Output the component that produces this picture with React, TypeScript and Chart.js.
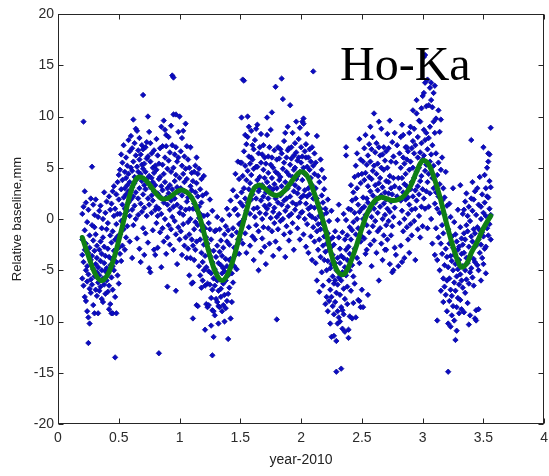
import { useEffect, useRef } from "react";
import { Chart, registerables } from "chart.js";

Chart.register(...registerables);

// Tick values
const xTicks = [0, 0.5, 1, 1.5, 2, 2.5, 3, 3.5, 4];
const yTicks = [-20, -15, -10, -5, 0, 5, 10, 15, 20];

const xTitle = "year-2010";
const yTitle = "Relative baseline,mm";
const stationLabel = "Ho-Ka";
const stationLabelX = 2.32;
const stationLabelY = 13.56;

// Observed relative baseline (mm), grouped by epoch (year-2010)
const samples2010: [number, number[]][] = [
  [0.20, [-2.0, -3.5, -5.8, 0.5]], [0.21, [9.5, -4.2, -6.5, 1.2]], [0.22, [2.7, -1.1, -7.6, -3.0]],
  [0.23, [1.6, -5.0, -2.4, -8.0]], [0.24, [-9.0, -0.3, -4.6, -6.1]], [0.25, [-9.6, -12.1, -3.3, -5.4, 0.9]],
  [0.26, [-10.2, -2.8, -6.8, -1.6]], [0.27, [-4.0, -7.2, 2.0, -5.9]], [0.28, [5.1, -3.6, -0.6, -6.4]],
  [0.29, [-2.1, -4.9, -8.4, 1.4]], [0.30, [-9.2, -3.1, -5.6, -0.8, 0.4]], [0.31, [-1.5, -6.9, -4.4, 1.9]],
  [0.32, [-3.8, -7.5, -2.6, -5.2]], [0.33, [0.2, -6.2, -4.7, -9.2]], [0.34, [-3.0, -5.5, 0.8, -7.0]],
  [0.35, [-2.2, -4.1, -6.6, 1.3]], [0.36, [-0.9, -5.0, -3.4, -7.8]], [0.37, [-8.1, -1.8, -5.8, 0.0]],
  [0.38, [2.6, -4.3, -6.4, -2.7]], [0.39, [-3.6, 0.6, -7.3, -5.1]], [0.40, [-1.0, -4.8, 1.7, -6.0]],
  [0.41, [-2.9, -7.1, -0.4, -5.3]], [0.42, [-3.7, 2.2, -6.5, -8.8]], [0.43, [-1.6, -4.5, 0.9, -8.3]],
  [0.44, [-9.2, -2.3, -5.7, 1.5, -3.9]], [0.45, [-9.2, 2.7, -1.2, -6.9, -4.6]], [0.46, [0.3, -3.1, -5.0, 3.2]],
  [0.47, [-13.5, -2.0, 1.0, -7.6]], [0.48, [-9.2, -4.2, 2.4, -0.5]], [0.49, [3.6, -1.7, -5.5, 0.5]],
  [0.50, [-2.8, 1.9, -6.3, 4.3]], [0.51, [0.5, -3.4, 4.8, -1.5]], [0.52, [2.9, -0.2, 6.3, -4.1]],
  [0.53, [1.4, 3.8, -2.6, 5.5]], [0.54, [-1.0, 2.1, 7.2, 0.0]], [0.55, [4.6, 1.0, -3.0, 3.0]],
  [0.56, [6.0, 2.4, -1.8, 4.0]], [0.57, [0.8, 5.2, 3.3, -0.7]], [0.58, [2.7, 7.7, 1.6, 4.4]],
  [0.59, [-2.2, 3.6, 6.6, 0.3]], [0.60, [5.0, 1.9, 8.1, 2.8]], [0.61, [3.1, 6.9, 0.9, 4.7, -3.8]],
  [0.62, [9.7, 2.2, 5.6, -0.6]], [0.63, [4.1, 7.4, 1.3, 3.5]], [0.64, [6.2, 0.0, 8.8, 2.6]],
  [0.65, [8.6, 3.9, 5.1, -1.9]], [0.66, [2.0, 6.7, 4.6, 0.4]], [0.67, [5.8, 3.0, 7.9, -2.9]],
  [0.68, [1.5, 4.4, 6.3, -4.2]], [0.69, [3.7, 7.2, 0.7, 5.3]], [0.70, [12.1, 2.4, 4.9, -0.9, 6.8]],
  [0.71, [5.4, 1.1, 3.3, -3.5]], [0.72, [7.0, 2.9, -1.4, 4.6]], [0.73, [7.5, 0.3, 3.9, 5.9]],
  [0.74, [10.0, 2.0, -2.3, 6.1]], [0.75, [8.5, 4.2, 1.4, -4.8]], [0.76, [7.4, 3.1, 5.6, -5.2]],
  [0.77, [2.3, 0.6, 6.4, 4.0]], [0.78, [-1.1, 3.6, 5.0, 1.8]], [0.79, [6.7, 2.7, -3.0, 4.5]],
  [0.80, [0.9, 5.2, 3.3, -3.5]], [0.81, [4.8, 1.2, -0.4, 7.8]], [0.82, [2.5, 6.2, -2.8, 0.3]],
  [0.83, [-13.1, 3.9, 1.0, 5.4]], [0.84, [6.9, 2.2, -1.3, 4.1]], [0.85, [9.0, 0.5, 3.2, -4.7]],
  [0.86, [7.1, 2.8, 5.3, -0.9]], [0.87, [9.6, 1.6, 4.4, -2.2]], [0.88, [8.7, 0.0, 3.6, 6.0]],
  [0.89, [8.2, 7.1, 2.1, -3.4]], [0.90, [1.4, 4.9, -1.8, 3.0, -6.6]], [0.91, [5.7, 2.5, -0.6, 8.0]],
  [0.92, [3.3, 0.9, 6.5, -2.5]], [0.93, [9.1, 4.6, 1.8, -1.0]], [0.94, [14.0, 7.2, 2.9, 0.2]],
  [0.95, [13.8, 10.2, 5.0, -3.0, 1.2]], [0.96, [3.7, 6.3, -0.2, 2.0]], [0.97, [10.2, 7.0, 4.3, -1.5, -7.0]],
  [0.98, [5.6, 1.4, 3.1, -4.4]], [0.99, [8.5, 2.6, -0.8, 6.0]],
];

const samples2011: [number, number[]][] = [
  [1.00, [10.0, 4.0, 0.6, -2.0]], [1.01, [3.0, 6.6, 1.1, -1.2]], [1.02, [7.9, 5.2, 2.3, -3.5]],
  [1.03, [0.4, 4.4, 8.6, -0.5]], [1.04, [6.1, 2.7, -2.6, 3.6]], [1.05, [4.9, 0.9, 9.3, -1.8]],
  [1.06, [7.1, 1.7, 3.9, -3.8]], [1.07, [2.1, -0.3, 5.8, -2.9]], [1.08, [5.0, -1.5, 1.0, -5.5]],
  [1.09, [7.0, 0.0, 3.2, -3.8]], [1.10, [2.8, -2.0, 4.5, -6.3]], [1.11, [-9.7, 1.0, 3.7, -2.6, -6.2]],
  [1.12, [4.6, -1.0, 1.5, -4.0]], [1.13, [2.6, -0.3, 5.2, -3.0]], [1.14, [0.9, 3.5, -2.2, 6.0, -8.4]],
  [1.15, [-8.5, 2.2, -0.6, 4.4]], [1.16, [4.9, 0.1, -4.6, 1.2]], [1.17, [-2.0, 0.5, 2.9, -5.5]],
  [1.18, [-1.1, -3.3, 3.9, 1.6, -6.7]], [1.19, [-4.2, -0.6, -6.0, 2.3]], [1.20, [-2.5, 0.3, -5.0, 4.2]],
  [1.21, [-10.8, -3.6, -0.9, -6.5]], [1.22, [-1.8, -4.7, 2.5, -8.3]], [1.23, [-6.3, -2.4, 0.4, -8.6]],
  [1.24, [-8.4, -3.0, -0.4, -5.1]], [1.25, [-3.6, -6.4, -1.0, 1.9]], [1.26, [-10.4, -5.3, -7.7, -2.0]],
  [1.27, [-13.3, -6.9, -4.2, -8.9, 0.8]], [1.28, [-11.5, -9.0, -5.8, -3.1]], [1.29, [-9.4, -4.9, -1.2, -6.5]],
  [1.30, [-7.8, -3.7, -5.2, -1.1]], [1.31, [-6.0, -2.6, -8.1, 0.2]], [1.32, [-10.2, -8.5, -4.3, -7.0]],
  [1.33, [-8.6, -3.2, -5.9, -1.0]], [1.34, [-6.8, -4.5, -2.1, -7.6]], [1.35, [-3.6, -5.3, -0.1, -9.0]],
  [1.36, [-2.8, -6.3, -8.4, -4.8]], [1.37, [-5.1, -1.5, -7.4, -10.0]], [1.38, [-3.9, -0.7, -6.0, -8.7]],
  [1.39, [-2.2, -4.6, 1.0, -8.0]], [1.40, [-11.7, -1.1, -5.5, -7.3]], [1.41, [-2.5, 0.4, -6.7, -4.0]],
  [1.42, [-9.7, -3.9, 1.8]], [1.43, [-8.1, -1.6, -5.3]], [1.44, [2.8, -0.9, -6.2]],
  [1.45, [-2.8, -4.6, 0.9]], [1.46, [1.0, -3.5, 4.4]], [1.47, [-1.3, 2.2, -4.9]],
  [1.48, [5.6, 0.4, -2.0]], [1.49, [3.9, -0.5, -3.4]], [1.50, [5.5, 1.6, -2.0, -0.4]],
  [1.51, [5.5, 2.6, -0.3, 9.9]], [1.52, [13.6, 4.2, 1.3, -2.4]], [1.53, [13.5, 6.6, 3.0, 0.0]],
  [1.54, [8.2, 2.0, -1.4, 5.2]], [1.55, [3.8, 7.3, 0.8, -3.3]], [1.56, [10.0, 8.0, 4.7, 1.6]],
  [1.57, [9.0, 2.9, 6.1, -0.8]], [1.58, [5.4, 0.5, 3.5, -2.6]], [1.59, [6.0, 1.9, 8.6, 4.3]],
  [1.60, [2.4, -1.7, 5.8, 7.2]], [1.61, [4.9, 1.0, -4.0, 6.8]], [1.62, [3.1, 7.7, 0.2, -2.0]],
  [1.63, [8.8, 5.1, 2.0, -0.6]], [1.64, [5.1, 3.8, 9.2, 1.1]], [1.65, [6.4, -1.2, 2.7, -5.0]],
  [1.66, [4.1, 0.6, 7.0, 3.0]], [1.67, [1.8, 5.5, -3.2, 8.3]], [1.68, [3.3, 6.3, 0.0, -1.9]],
  [1.69, [7.2, 2.2, 4.8, -0.8]], [1.70, [4.0, 1.3, 6.0, -2.7]], [1.71, [5.4, 2.6, 0.5, -4.4]],
  [1.72, [9.9, 8.2, 3.6, 1.0]], [1.73, [6.1, 2.0, -0.9, 4.5]], [1.74, [7.0, 3.1, -2.4, 1.4]],
  [1.75, [8.7, 5.3, 0.1, 2.6]], [1.76, [10.4, 4.0, -1.2, 6.0]], [1.77, [2.9, 0.7, 5.0, -3.6]],
  [1.78, [6.7, 3.4, 1.1, -0.4]], [1.79, [12.9, 4.6, 2.0, -2.2]], [1.80, [-9.8, 3.0, 0.2, 5.8]],
  [1.81, [1.6, 4.4, -1.0, 7.0]], [1.82, [3.8, 0.5, 5.9, -2.9]], [1.83, [6.8, 2.3, -0.2, 4.1]],
  [1.84, [13.7, 6.4, 1.4, 3.2]], [1.85, [11.7, 4.9, 0.0, 2.6]], [1.86, [5.5, 1.8, 7.6, -1.5]],
  [1.87, [3.6, 8.4, 0.8, -3.7]], [1.88, [6.0, 2.0, 4.6, -0.7]], [1.89, [6.7, 3.0, 9.0, 1.2]],
  [1.90, [4.3, 0.3, 6.9, -2.1]], [1.91, [11.1, 5.3, 2.2, -1.3]], [1.92, [7.0, 3.5, 0.5, 5.9]],
  [1.93, [8.4, 4.1, 1.6, -0.4]], [1.94, [6.2, 2.7, -3.0, 4.8]], [1.95, [5.0, 0.9, 7.4, 3.3]],
  [1.96, [9.5, 3.9, 1.4, 6.5]], [1.97, [2.5, 5.7, -0.9, 4.2]], [1.98, [7.8, 3.0, 0.2, 6.0]],
  [1.99, [4.6, 1.6, 8.9, -2.0]],
];

const samples2012: [number, number[]][] = [
  [2.00, [5.5, 2.1, 7.0, 0.6]], [2.01, [9.5, 3.8, 0.7, 6.1]], [2.02, [9.8, 9.3, 5.0, -1.5, 2.3]],
  [2.03, [4.4, 0.0, 6.6, 2.8]], [2.04, [7.3, 1.5, 6.0, -2.7]], [2.05, [5.1, -0.5, 2.2, 8.3]],
  [2.06, [3.0, 6.0, -3.3, 1.0]], [2.07, [4.8, 0.4, 6.8, 2.4]], [2.08, [1.2, 4.0, -1.7, 5.6]],
  [2.09, [7.0, 3.3, 0.2, -4.0]], [2.10, [14.4, 2.0, 5.2, -0.8]], [2.11, [4.4, 1.1, -2.2, 6.4]],
  [2.12, [0.0, 3.0, -4.3, 5.5]], [2.13, [8.1, 2.0, -1.2, -6.0]], [2.14, [4.2, -0.5, 1.5, -3.0]],
  [2.15, [3.6, -2.0, 0.3, -7.1]], [2.16, [5.8, 1.0, -3.7, -1.0]], [2.17, [4.8, -0.4, 2.3, -5.2]],
  [2.18, [1.6, -2.6, -6.5, 0.4]], [2.19, [4.0, -1.7, -4.0, 2.9]], [2.20, [-1.1, -3.2, 1.0, -8.3]],
  [2.21, [-2.4, -5.0, 0.6, -7.6]], [2.22, [-4.1, -1.4, -9.0, 1.9]], [2.23, [-6.0, -3.0, -0.2, -8.0]],
  [2.24, [-4.8, -2.0, -10.2, -6.9]], [2.25, [-2.7, -7.6, -11.5, -4.4, 0.8]], [2.26, [-5.6, -8.5, -1.8, -3.5]],
  [2.27, [-6.3, -9.3, -2.5, -11.4]], [2.28, [-6.0, -4.3, -8.1, -1.2]], [2.29, [-14.9, -11.9, -5.0, -7.2]],
  [2.30, [-10.2, -9.0, -3.8, -0.1, -6.4]], [2.31, [1.4, -1.8, -9.6, -5.7]], [2.32, [-4.3, -7.4, -2.9, -10.0]],
  [2.33, [-14.6, -8.6, -3.6, -6.0]], [2.34, [-8.9, -5.2, -1.3, -10.7]], [2.35, [-3.8, -6.8, 0.5, -9.3]],
  [2.36, [-4.7, -2.0, -7.8, -11.0]], [2.37, [7.0, 6.2, -0.1, -5.5, -3.0]], [2.38, [-8.3, -1.6, -4.0, -6.6]],
  [2.39, [-10.8, -11.6, -2.7, 1.0]], [2.40, [-5.0, -0.8, -3.4, -9.5]], [2.41, [-7.0, -2.0, 0.9, 3.3]],
  [2.42, [-4.5, 1.8, -9.7, -1.1]], [2.43, [-0.3, 2.6, -5.6, -8.2]], [2.44, [4.1, -2.9, 0.6, -6.3]],
  [2.45, [-9.6, -1.5, 2.0, 5.2]], [2.46, [3.0, -3.8, 0.0, 6.4]], [2.47, [-7.9, 1.4, 4.3, -0.9]],
  [2.48, [0.7, -4.3, -8.0, 7.8]], [2.49, [-8.6, 3.5, -2.2, 5.8]], [2.50, [-1.7, 1.0, 4.4, -6.9]],
  [2.51, [2.1, -8.6, 5.6, 0.0]], [2.52, [3.8, -1.9, 6.9, 1.2]], [2.53, [-3.4, 4.5, 0.4, 8.2]],
  [2.54, [2.0, -0.6, -3.0, 5.3]], [2.55, [6.2, 1.6, -7.4, 3.2]], [2.56, [4.1, -1.3, 7.3, 0.8]],
  [2.57, [2.7, 5.6, -2.5, 9.0]], [2.58, [0.2, 3.9, 6.8, -4.6]], [2.59, [2.3, 8.0, -0.7, 4.7]],
  [2.60, [5.2, 1.0, 10.3, -2.1]], [2.61, [3.3, 6.5, -0.2, 1.6]], [2.62, [7.4, 2.0, -3.3, 4.4]],
  [2.63, [0.6, 5.4, 2.8, -1.2]], [2.64, [9.5, 3.5, 7.0, -6.0]], [2.65, [1.2, 4.0, -0.9, 6.2]],
  [2.66, [5.0, 2.3, -2.4, 8.8]], [2.67, [0.0, 3.1, 6.3, -4.0]], [2.68, [4.8, 1.5, 7.0, -1.6]],
  [2.69, [2.6, -3.0, 5.7, 0.4]], [2.70, [3.7, 6.6, -0.6, 1.9, -3.0]], [2.71, [5.0, 1.0, -2.0, 8.3]],
  [2.72, [2.5, 6.9, -0.2, 3.6]], [2.73, [4.2, 0.7, -4.4, 9.6]], [2.74, [1.7, 5.6, -1.6, 3.0]],
  [2.75, [7.5, 2.4, -0.7, -5.2]], [2.76, [4.0, 0.2, 6.1, -5.0]], [2.77, [3.2, -2.8, 8.4, 1.1]],
  [2.78, [5.5, -3.5]], [2.79, [7.2, 2.2]], [2.80, [-4.6, 4.0]],
  [2.81, [3.0, 6.4, -0.4]], [2.82, [1.8, 5.0, -2.6, 8.0]], [2.83, [9.2, 4.0, 0.8, -4.2]],
  [2.84, [8.2, 2.6, 6.0, -1.2]], [2.85, [3.4, 0.0, 5.4, -3.8]], [2.86, [7.0, 1.9, 4.4]],
  [2.87, [7.0, 3.2, -0.8, 5.8]], [2.88, [2.1, 6.6, 0.5, -2.0]], [2.89, [4.8, 8.4, 1.4, -3.3]],
  [2.90, [5.6, 2.9, 9.0, -0.5]], [2.91, [3.6, 6.9, 0.9, -1.6]], [2.92, [7.6, 2.2, 5.0, 10.6]],
  [2.93, [6.4, 4.0, -0.2, 8.8]], [2.94, [2.8, 7.2, 1.0, -4.0]], [2.95, [11.6, 10.3, 4.6, 1.8]],
  [2.96, [6.0, 3.2, 8.0, -1.0]], [2.97, [9.6, 5.0, 2.4, 0.3]], [2.98, [9.5, 6.5, 3.7, -1.8]],
  [2.99, [7.4, 4.2, 1.2, 10.8]],
];

const samples2013: [number, number[]][] = [
  [3.00, [12.0, 5.8, 2.9, -0.7]], [3.01, [15.8, 12.3, 8.7, 6.2, 2.0]], [3.02, [16.0, 13.3, 7.7, 4.7, 1.0]],
  [3.03, [11.0, 8.4, 5.3, 2.7]], [3.04, [13.6, 6.8, 3.6, -0.9]], [3.05, [11.1, 7.9, 4.4, 1.2]],
  [3.06, [12.8, 9.0, 5.6, 2.5]], [3.07, [13.3, 11.6, 6.3, 0.0]], [3.08, [10.9, 7.2, 4.0, -2.4]],
  [3.09, [12.3, 9.5, 5.2, 3.0]], [3.10, [13.0, 8.4, 1.5, -3.5]], [3.11, [6.4, 2.6, -0.9, 9.8]],
  [3.12, [-9.9, 4.3, 1.0, -4.0]], [3.13, [10.6, 5.5, -1.8, 2.2]], [3.14, [8.5, 0.6, -5.0, 3.4]],
  [3.15, [9.7, 4.8, -2.4, -7.0]], [3.16, [1.8, -3.4, 6.0, -0.6]], [3.17, [-5.8, 3.0, -1.4, -8.1]],
  [3.18, [0.4, -4.5, 2.1, -6.6]], [3.19, [-2.9, -7.4, 4.6, 0.0]], [3.20, [-3.7, -6.0, 1.3, -9.0]],
  [3.21, [-14.9, -10.2, -4.7, -1.0]], [3.22, [-5.8, -8.0, -2.4, 1.5]], [3.23, [-3.6, -6.9, -10.5, 0.2]],
  [3.24, [-7.5, -4.1, -1.7, -9.4]], [3.25, [3.0, -5.0, -8.5, -2.8]], [3.26, [-6.2, -3.5, -9.9, -0.3]],
  [3.27, [-11.8, -7.0, -4.4, -1.5]], [3.28, [-8.6, -5.6, -2.2, -10.9]], [3.29, [-4.9, -7.7, -3.0, 0.9]],
  [3.30, [-2.7, -6.4, -9.2, -4.0]], [3.31, [3.3, -0.8, -5.4, -7.9]], [3.32, [-3.4, -6.0, -1.9, -8.8]],
  [3.33, [-4.6, -2.5, 0.5, -6.7]], [3.34, [0.9, -1.4, -9.1, -3.3]], [3.35, [-5.0, -2.0, -7.2, 1.7]],
  [3.36, [-3.8, -0.6, -5.9, 2.5]], [3.37, [-1.2, -4.3, -8.2, 0.3]], [3.38, [-10.3, -6.3, -2.7, 1.2]],
  [3.39, [-9.4, -3.6, -0.2, -5.2]], [3.40, [7.7, -1.7, -4.8, 2.0]], [3.41, [-2.2, 0.8, -5.7, 3.6]],
  [3.42, [-3.9, -1.0, 1.9, -6.5]], [3.43, [-1.4, -9.7, -4.2, 2.7]], [3.44, [-8.9, -9.9, -2.6, 0.4]],
  [3.45, [-0.8, -4.5, 3.0]], [3.46, [-8.8, -2.0, 1.4, -5.0]], [3.47, [-1.1, -3.3, 4.1]],
  [3.48, [1.2, -2.5, 0.0, -6.0]], [3.49, [-3.8, 2.4, -1.3]], [3.50, [7.0, -1.7, 0.6, -4.4]],
  [3.51, [1.6, -2.9, 4.3]], [3.52, [-2.7, 0.3, 3.0, -5.3]], [3.53, [2.2, -0.9, 5.0]],
  [3.54, [6.4, 5.6, 2.1, -1.6]], [3.55, [6.3, 1.0, -0.5, 3.7]], [3.56, [8.9, 3.1, -2.0, 0.4]],
];

// Smoothed fit (green curve)
const fitEpochs = [
  0.20, 0.25, 0.30, 0.35, 0.40, 0.45, 0.50, 0.55, 0.60, 0.65, 0.70, 0.75, 0.80, 0.85, 0.90, 0.95,
  1.00, 1.05, 1.10, 1.15, 1.20, 1.25, 1.30, 1.35, 1.40, 1.45, 1.50, 1.55, 1.60, 1.65, 1.70, 1.75,
  1.80, 1.85, 1.90, 1.95, 2.00, 2.05, 2.10, 2.15, 2.20, 2.25, 2.30, 2.35, 2.40, 2.45, 2.50, 2.55,
  2.60, 2.65, 2.70, 2.75, 2.80, 2.85, 2.90, 2.95, 3.00, 3.05, 3.10, 3.15, 3.20, 3.25, 3.30, 3.33,
  3.37, 3.40, 3.45, 3.50, 3.56,
];
const fitValues = [
  -1.8, -3.6, -5.2, -6.0, -5.6, -4.2, -2.1, 0.3, 2.7, 4.0, 4.0, 3.4, 2.6, 2.0, 2.0, 2.4,
  2.8, 2.7, 2.1, 0.8, -1.3, -3.6, -5.3, -6.0, -5.3, -3.6, -1.4, 0.8, 2.7, 3.3, 3.0, 2.5,
  2.3, 2.6, 3.3, 4.1, 4.6, 4.2, 2.8, 1.0, -1.0, -3.5, -5.1, -5.4, -4.4, -2.8, -0.9, 0.7,
  1.7, 2.1, 2.0, 1.8, 1.9, 2.3, 3.2, 4.6, 5.7, 5.3, 3.8, 1.8, -0.6, -2.7, -4.4, -4.7,
  -4.2, -3.3, -2.2, -0.9, 0.3,
];

const SANS = '"Liberation Sans", Arial, Helvetica, sans-serif';

const matlabBox = {
  id: "matlabBox",
  afterDraw(chart: any) {
    const { ctx, chartArea: a, scales } = chart;
    ctx.save();
    ctx.strokeStyle = "#262626";
    ctx.lineWidth = 1;
    const L = Math.round(a.left) + 0.5;
    const R = Math.round(a.right) - 0.5;
    const T = Math.round(a.top) + 0.5;
    const B = Math.round(a.bottom) - 0.5;
    ctx.strokeRect(L, T, R - L, B - T);
    const len = 5;
    ctx.beginPath();
    for (const v of xTicks) {
      const px = Math.round(scales.x.getPixelForValue(v)) + 0.5;
      ctx.moveTo(px, B);
      ctx.lineTo(px, B - len);
      ctx.moveTo(px, T);
      ctx.lineTo(px, T + len);
    }
    for (const v of yTicks) {
      const py = Math.round(scales.y.getPixelForValue(v)) + 0.5;
      ctx.moveTo(L, py);
      ctx.lineTo(L + len, py);
      ctx.moveTo(R, py);
      ctx.lineTo(R - len, py);
    }
    ctx.stroke();
    ctx.restore();
  },
};

const stationText = {
  id: "stationText",
  afterDatasetsDraw(chart: any) {
    const { ctx, scales } = chart;
    ctx.save();
    ctx.font = '48px "Liberation Serif", "Times New Roman", serif';
    ctx.fillStyle = "#000";
    ctx.textAlign = "left";
    ctx.textBaseline = "alphabetic";
    ctx.fillText(stationLabel, scales.x.getPixelForValue(stationLabelX), scales.y.getPixelForValue(stationLabelY));
    ctx.restore();
  },
};

const plainLabel = (v: any) => String(Number(v));

export default function App() {
  const ref = useRef<HTMLCanvasElement | null>(null);

  useEffect(() => {
    document.body.style.margin = "0";
    const canvas = ref.current;
    if (!canvas) return;
    const allSamples = [...samples2010, ...samples2011, ...samples2012, ...samples2013];
    const scatterData = allSamples.flatMap(([t, vals]) => vals.map((v) => ({ x: t, y: v })));
    const fitData = fitEpochs.map((t, i) => ({ x: t, y: fitValues[i] }));

    const chart = new Chart(canvas, {
      type: "scatter",
      data: {
        datasets: [
          {
            label: "fit",
            data: fitData,
            showLine: true,
            borderColor: "#0f7f14",
            borderWidth: 5,
            pointRadius: 0,
            tension: 0.4,
            fill: false,
            order: 0,
            borderCapStyle: "round",
            borderJoinStyle: "round",
          } as any,
          {
            label: "obs",
            data: scatterData,
            pointStyle: "rectRot",
            pointRadius: 2.7,
            pointBorderWidth: 0.8,
            backgroundColor: "#0b0bc2",
            borderColor: "#0808a0",
            order: 1,
          } as any,
        ],
      },
      options: {
        responsive: false,
        animation: false,
        events: [],
        layout: { padding: { top: 14, right: 3, left: 0, bottom: 0 } },
        plugins: { legend: { display: false }, tooltip: { enabled: false }, title: { display: false } },
        scales: {
          x: {
            type: "linear",
            min: 0,
            max: 4,
            afterBuildTicks: (s: any) => {
              s.ticks = xTicks.map((v) => ({ value: v }));
            },
            afterFit: (s: any) => {
              s.height = 52;
              s.paddingLeft = 0;
              s.paddingRight = 0;
            },
            grid: { display: false, drawTicks: false },
            border: { display: false },
            ticks: {
              padding: 6,
              color: "#2b2b2b",
              autoSkip: false,
              maxRotation: 0,
              font: { family: SANS, size: 14 },
              callback: plainLabel,
            },
            title: {
              display: true,
              text: xTitle,
              color: "#222",
              font: { family: SANS, size: 14 },
              padding: { top: 0, bottom: 7.5 },
            },
          },
          y: {
            type: "linear",
            min: -20,
            max: 20,
            afterBuildTicks: (s: any) => {
              s.ticks = yTicks.map((v) => ({ value: v }));
            },
            afterFit: (s: any) => {
              s.width = 58;
              s.paddingTop = 0;
              s.paddingBottom = 0;
            },
            grid: { display: false, drawTicks: false },
            border: { display: false },
            ticks: {
              padding: 4,
              color: "#2b2b2b",
              autoSkip: false,
              font: { family: SANS, size: 14 },
              callback: plainLabel,
            },
            title: {
              display: true,
              text: yTitle,
              color: "#222",
              font: { family: SANS, size: 13 },
              padding: { top: 10, bottom: 0 },
            },
          },
        },
      },
      plugins: [matlabBox, stationText],
    });
    return () => chart.destroy();
  }, []);

  return (
    <div style={{ width: 549, height: 476, background: "#fff" }}>
      <canvas ref={ref} width={549} height={476} style={{ display: "block" }} />
    </div>
  );
}
